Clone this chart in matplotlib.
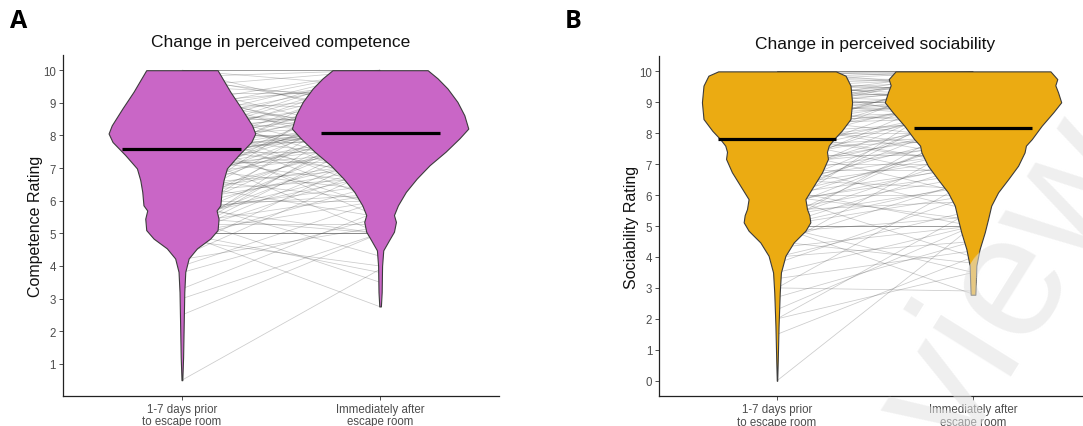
import matplotlib
matplotlib.use("Agg")
import matplotlib.pyplot as plt
import numpy as np

plt.rcParams['font.family'] = ['Liberation Sans', 'DejaVu Sans']

# ---------------- data ----------------
categories = ["1-7 days prior\nto escape room", "Immediately after\nescape room"]

titles = ["Change in perceived competence", "Change in perceived sociability"]
ylabels = ["Competence Rating", "Sociability Rating"]
yticks_A = [1, 2, 3, 4, 5, 6, 7, 8, 9, 10]
yticks_B = [0, 1, 2, 3, 4, 5, 6, 7, 8, 9, 10]
means_A = [7.57, 8.07]
means_B = [7.80, 8.17]

# violin outlines: rating level -> half width (x units)
violA_pre_y = [0.5, 1.2, 2.2, 3.2, 3.82, 4.23, 4.54, 4.84, 5.10, 5.45, 5.70, 5.86, 6.27, 6.63, 6.99, 7.40, 7.80, 8.06, 8.31, 8.83, 9.34, 10.0]
violA_pre_w = [0.002, 0.006, 0.009, 0.012, 0.017, 0.034, 0.076, 0.143, 0.180, 0.185, 0.175, 0.194, 0.200, 0.210, 0.227, 0.286, 0.350, 0.370, 0.354, 0.300, 0.244, 0.180]
violA_post_y = [2.76, 3.2, 4.0, 4.48, 4.79, 5.05, 5.20, 5.35, 5.56, 5.86, 6.27, 6.68, 7.09, 7.50, 7.91, 8.21, 8.62, 9.03, 9.44, 9.75, 10.0]
violA_post_w = [0.004, 0.008, 0.010, 0.016, 0.045, 0.070, 0.075, 0.080, 0.070, 0.090, 0.130, 0.185, 0.250, 0.330, 0.400, 0.445, 0.425, 0.390, 0.340, 0.290, 0.240]
violB_pre_y = [0.0, 0.7, 1.78, 2.85, 3.5, 4.04, 4.47, 4.85, 5.12, 5.35, 5.55, 5.87, 6.30, 6.74, 7.17, 7.40, 7.60, 7.81, 8.08, 8.46, 9.00, 9.54, 9.86, 10.0]
violB_pre_w = [0.001, 0.004, 0.008, 0.014, 0.020, 0.043, 0.085, 0.145, 0.170, 0.165, 0.153, 0.145, 0.187, 0.230, 0.260, 0.255, 0.264, 0.290, 0.330, 0.375, 0.383, 0.375, 0.350, 0.300]
violB_post_y = [2.78, 3.29, 3.72, 4.26, 4.80, 5.23, 5.66, 6.09, 6.52, 6.95, 7.38, 7.60, 7.81, 8.24, 8.68, 9.00, 9.32, 9.55, 9.75, 10.0]
violB_post_w = [0.012, 0.015, 0.017, 0.034, 0.060, 0.077, 0.093, 0.128, 0.180, 0.230, 0.263, 0.270, 0.300, 0.350, 0.410, 0.450, 0.434, 0.420, 0.430, 0.395]

# paired ratings (estimated from the connecting lines)
pre_A = [10, 10, 10, 10, 10, 9.8, 9.7, 9.5, 9.5, 9.3, 9.2, 9.0, 9.0, 9.0, 9.0, 8.8, 8.8,
         8.7, 8.7, 8.5, 8.5, 8.5, 8.3, 8.3, 8.2, 8.2, 8.0, 8.0, 8.0, 8.0, 8.0, 8.0, 8.0,
         7.8, 7.8, 7.8, 7.7, 7.7, 7.5, 7.5, 7.5, 7.5, 7.5,
         7.3, 7.3, 7.2, 7.0, 7.0, 7.0, 7.0, 6.8, 6.8, 6.7, 6.5, 6.5, 6.5, 6.3, 6.3, 6.2,
         6.0, 6.0, 6.0, 6.0, 5.8, 5.8,
         5.7, 5.5, 5.5, 5.5, 5.5, 5.3, 5.3, 5.2, 5.0, 5.0, 5.0, 5.0, 5.0, 5.0, 5.0, 5.0,
         5.0, 5.0, 4.8, 4.8,
         4.5, 4.3, 4.2, 4.0, 3.8, 3.3, 3.0, 2.5, 0.5,
         9.8, 9.5, 9.3, 9.0, 8.8, 8.7, 8.5, 8.3, 8.2, 8.0, 8.0, 7.8, 7.7, 7.5, 7.3, 7.2,
         7.0, 6.8, 6.7, 6.5, 6.3, 6.0, 5.8, 5.7, 5.5, 5.3, 5.0, 5.0, 9.2, 8.5, 8.0, 7.5,
         7.0, 6.5, 6.0, 5.5, 8.8, 7.8, 6.8, 5.8]
post_A = [10, 10, 10, 9.5, 8.5, 10, 9.0, 10, 8.0, 9.3, 7.5, 10, 8.8, 8.2, 6.5, 9.7, 8.0,
          9.2, 7.0, 10, 8.5, 8.0, 9.0, 6.0, 8.7, 7.7, 10, 9.5, 9.0, 8.3, 8.0, 7.3, 5.5,
          9.8, 8.2, 7.8, 8.8, 6.8, 9.0, 8.5, 8.0, 7.5, 5.0,
          8.3, 9.5, 7.2, 8.0, 8.7, 6.3, 10, 8.0, 7.5, 9.0, 8.2, 7.0, 5.5, 8.5, 6.7, 7.8,
          8.0, 9.2, 6.0, 4.3, 7.3, 8.8,
          6.5, 8.0, 7.0, 5.0, 3.5, 7.7, 6.2, 8.3, 5.0, 5.0, 5.0, 5.0, 6.0, 7.0, 8.0, 9.0,
          2.75, 3.8, 4.0, 6.5,
          7.5, 7.0, 5.2, 6.0, 5.5, 5.7, 5.0, 5.0, 3.9,
          8.7, 9.2, 7.8, 9.5, 7.3, 8.3, 9.7, 7.5, 10, 8.7, 6.7, 9.0, 8.0, 9.7, 6.5, 8.5,
          7.7, 9.3, 6.0, 8.8, 7.2, 10, 6.2, 8.3, 9.3, 5.3, 7.5, 8.5, 8.0, 6.3, 9.8, 8.3,
          7.5, 9.5, 7.0, 6.8, 10, 5.8, 8.7, 5.0]

pre_B = [10, 10, 10, 10, 10, 10, 9.8, 9.8, 9.7, 9.7, 9.5, 9.5, 9.5, 9.3, 9.3, 9.2, 9.2,
         9.0, 9.0, 9.0, 9.0, 8.8, 8.8, 8.8, 8.7, 8.7, 8.5, 8.5, 8.5, 8.3, 8.3, 8.2, 8.2,
         8.0, 8.0, 8.0, 8.0,
         7.8, 7.8, 7.7, 7.5, 7.5, 7.5, 7.3, 7.2, 7.0, 7.0, 7.0, 7.0, 6.8, 6.8, 6.7, 6.5,
         6.5, 6.3, 6.3, 6.2, 6.0, 6.0, 6.0, 6.0, 5.8, 5.8, 5.7, 5.5, 5.5, 5.3, 5.2,
         5.0, 5.0, 5.0, 5.0, 5.0, 5.0, 5.0, 5.0, 4.8, 4.5, 4.5, 4.3, 4.3, 4.0, 4.0, 3.8,
         3.5, 3.3, 3.0, 3.0, 2.7, 2.3, 2.0, 2.0, 1.5, 0.0,
         10, 9.9, 9.8, 9.6, 9.5, 9.4, 9.3, 9.2, 9.1, 9.0, 8.9, 8.8, 8.6, 8.5, 8.4, 8.2,
         8.0, 7.8, 7.6, 7.4, 7.2, 7.0, 6.8, 6.5, 6.2, 6.0, 5.8, 5.5, 5.2, 5.0, 9.7, 9.0,
         8.3, 7.5, 6.7, 6.0, 5.5, 9.5, 8.7, 7.9]
post_B = [10, 10, 10, 10, 9.8, 9.5, 10, 9.7, 9.3, 10, 9.5, 9.8, 9.0, 9.6, 9.2, 8.8, 10,
          9.0, 9.4, 8.5, 9.8, 9.3, 8.8, 10, 9.0, 8.3, 9.5, 8.7, 7.8, 9.2, 8.5, 9.8, 7.5,
          8.0, 9.0, 7.0, 10,
          8.5, 6.5, 9.3, 7.8, 8.8, 6.0, 7.3, 9.5, 8.0, 7.0, 5.5, 9.0, 8.2, 6.8, 7.7, 9.2,
          6.2, 8.0, 7.2, 5.0, 7.5, 8.5, 6.0, 4.0, 6.7, 9.0, 7.0, 5.8, 8.0, 6.3, 7.3,
          5.0, 5.0, 5.0, 6.0, 7.0, 8.5, 3.5, 2.8, 5.3, 6.5, 3.8, 5.0, 7.8, 5.5, 4.5, 6.0,
          5.0, 4.2, 2.9, 6.5, 4.5, 5.0, 5.5, 3.5, 4.0, 5.0,
          9.9, 10, 9.6, 9.8, 9.2, 9.7, 9.5, 9.0, 9.4, 8.8, 9.1, 9.6, 8.9, 9.3, 8.6, 8.9,
          8.4, 9.7, 7.9, 8.7, 8.3, 7.6, 9.5, 7.4, 8.8, 6.9, 7.8, 6.6, 8.1, 6.4, 8.9, 10,
          7.2, 9.9, 8.6, 5.2, 9.6, 8.3, 10, 7.0]

# ---------------- figure ----------------
W, H = 1083, 427
fig = plt.figure(figsize=(W / 100, H / 100), dpi=100)

def px_axes(left, right, top, bottom):
    return fig.add_axes([left / W, 1 - bottom / H, (right - left) / W, (bottom - top) / H])

axA = px_axes(63, 499, 55.7, 396.7)
axB = px_axes(659.4, 1090.6, 56.9, 397.2)

panels = [
    (axA, pre_A, post_A, [(violA_pre_y, violA_pre_w), (violA_post_y, violA_post_w)], means_A,
     "#C966C6", yticks_A, (0.025, 10.475), titles[0], ylabels[0], 0),
    (axB, pre_B, post_B, [(violB_pre_y, violB_pre_w), (violB_post_y, violB_post_w)], means_B,
     "#EBAB12", yticks_B, (-0.5, 10.5), titles[1], ylabels[1], 0),
]

xpos = [1, 2]
for ax, pre, post, viols, means, col, yt, ylim, title, ylab, lpad in panels:
    for a, b in zip(pre, post):
        ax.plot(xpos, [a, b], color="#444444", alpha=0.28, lw=0.55, zorder=1,
                solid_capstyle="butt")
    for x, (vy, vw) in zip(xpos, viols):
        vy = np.asarray(vy, float)
        vw = np.asarray(vw, float)
        ax.fill_betweenx(vy, x - vw, x + vw, facecolor=col, edgecolor="#3c3c3c",
                         lw=0.8, zorder=2)
    for x, m in zip(xpos, means):
        ax.hlines(m, x - 0.3, x + 0.3, color="black", lw=2.3, zorder=3)
    ax.set_xlim(0.4, 2.6)
    ax.set_ylim(*ylim)
    ax.set_xticks(xpos)
    ax.set_xticklabels(categories, fontsize=8.3, color="#4d4d4d", linespacing=1.05)
    ax.set_yticks(yt)
    ax.set_yticklabels([str(v) for v in yt], fontsize=8.3, color="#4d4d4d")
    ax.tick_params(length=2.7, width=0.6, color="#333333", pad=2.5)
    for s in ["top", "right"]:
        ax.spines[s].set_visible(False)
    for s in ["left", "bottom"]:
        ax.spines[s].set_linewidth(0.9)
        ax.spines[s].set_color("#222222")
    ax.set_title(title, fontsize=12.5, color="#111111", pad=6)
    ax.set_ylabel(ylab, fontsize=11.5, color="#111111", labelpad=lpad)

fig.text(10 / W, 1 - 21 / H, "A", fontsize=18, fontweight="bold", family="Open Sans",
         va="center", ha="left")
fig.text(565 / W, 1 - 22 / H, "B", fontsize=18, fontweight="bold", family="Open Sans",
         va="center", ha="left")

# faint "Preview" watermark crossing panel B
fig.text(935 / W, 1 - 390 / H, "Preview", fontsize=125, color="#e2e2e2", alpha=0.55,
         rotation=58, ha="center", va="center", zorder=10)

fig.savefig("out.png", dpi=100)
